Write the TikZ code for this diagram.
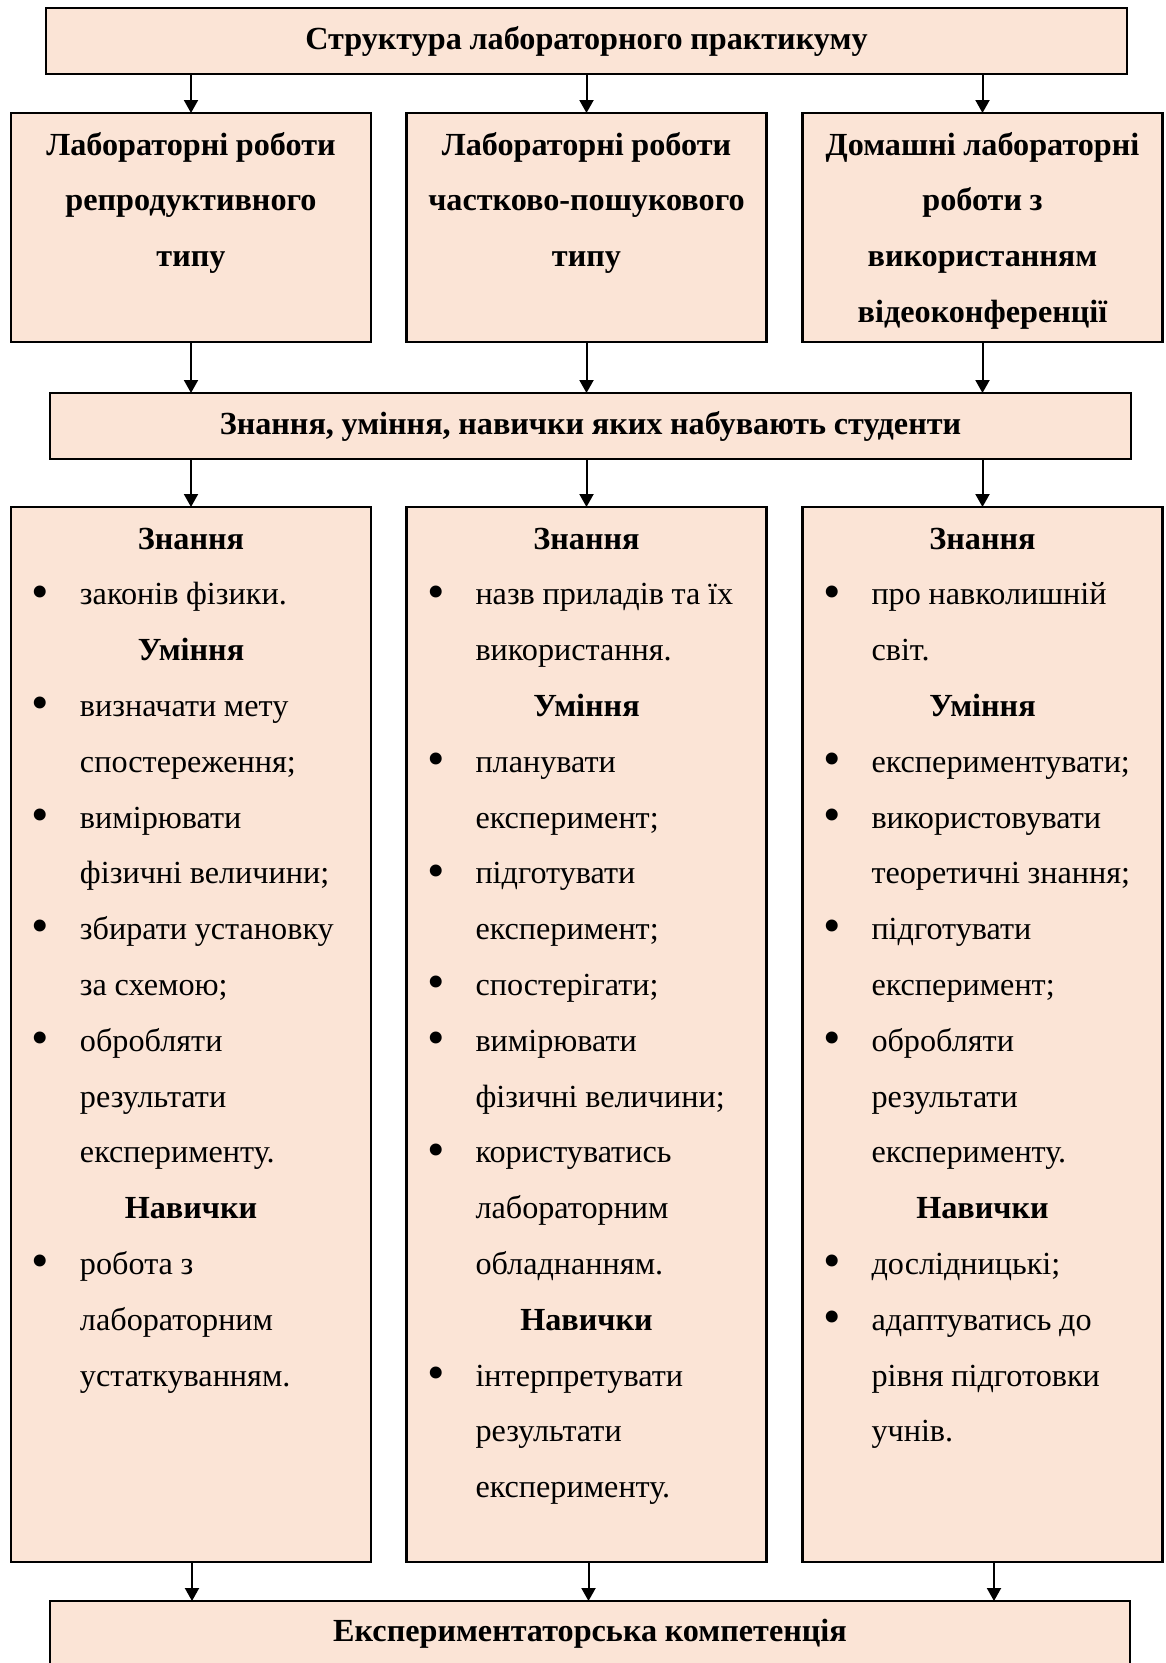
\documentclass[tikz,border=0pt]{standalone}
\usepackage{fontspec}
\setmainfont{Liberation Serif}[WordSpace={0.95,0,0}]
\usepackage{tikz}
\usetikzlibrary{positioning,arrows.meta}

\definecolor{tilo}{RGB}{251,228,214}
\newcommand{\hd}[1]{\makebox[\linewidth][c]{\bfseries #1}}
\newcommand{\bl}{\makebox[54pt][l]{\hspace{5.7pt}\raisebox{-3.2pt}{\scalebox{1.55}{\textbullet}}}}
\newcommand{\cn}{\hspace*{54pt}}
\newcommand{\prob}{\spaceskip=0pt\relax}

\begin{document}
\begin{tikzpicture}[x=1pt, y=-1pt, line width=2.2pt,
    blok/.style={rectangle, draw, fill=tilo, inner sep=0pt, outer sep=0pt,
                 font=\fontsize{32.2}{55.8}\selectfont\bfseries},
    shyroka/.style={blok, minimum width=1081pt, minimum height=66pt, anchor=north west},
    mala/.style={blok, minimum width=360pt, anchor=north west},
    napys/.style={inner sep=0pt, anchor=base, text width=330pt, align=left,
                  font=\fontsize{32.2}{55.8}\selectfont\prob},
    strilka/.style={-{Triangle[length=13pt,width=14pt]}, line width=2pt}]
\useasboundingbox (0,0) rectangle (1166,1663);

% boxes
\node[shyroka] (ttl) at (46,8) {Структура лабораторного практикуму};
\node[mala, minimum height=229pt] (r1) at (11,113) {};
\node[mala, minimum height=229pt] (r2) at (406.5,113) {};
\node[mala, minimum height=229pt] (r3) at (802.5,113) {};
\node[shyroka] (zn) at (50,393) {Знання, уміння, навички яких набувають студенти};
\node[mala, minimum height=1055pt] (k1) at (11,507) {};
\node[mala, minimum height=1055pt] (k2) at (406.5,507) {};
\node[mala, minimum height=1055pt] (k3) at (802.5,507) {};
\node[shyroka, minimum width=1080pt] (komp) at (50,1601) {Експериментаторська компетенція};

% texts of the kinds of work
\node[napys, align=center, font=\fontsize{32.2}{55.8}\selectfont\bfseries\prob] (r1t) at ([yshift=-42pt]r1.north)
  {\prob Лабораторні роботи\\ репродуктивного\\ типу};
\node[napys, align=center, font=\fontsize{32.2}{55.8}\selectfont\bfseries\prob] (r2t) at ([yshift=-42pt]r2.north)
  {\prob Лабораторні роботи\\ частково-пошукового\\ типу};
\node[napys, align=center, font=\fontsize{32.2}{55.8}\selectfont\bfseries\prob] (r3t) at ([yshift=-42pt]r3.north)
  {\prob Домашні лабораторні\\ роботи з\\ використанням\\ відеоконференції};

% knowledge, skills, habits
\node[napys] (k1t) at ([yshift=-42pt]k1.north)
  {\prob\hd{Знання}\\
   \bl законів фізики.\\
   \hd{Уміння}\\
   \bl визначати мету\\
   \cn спостереження;\\
   \bl вимірювати\\
   \cn фізичні величини;\\
   \bl збирати установку\\
   \cn за схемою;\\
   \bl обробляти\\
   \cn результати\\
   \cn експерименту.\\
   \hd{Навички}\\
   \bl робота з\\
   \cn лабораторним\\
   \cn устаткуванням.};
\node[napys] (k2t) at ([yshift=-42pt]k2.north)
  {\prob\hd{Знання}\\
   \bl назв приладів та їх\\
   \cn використання.\\
   \hd{Уміння}\\
   \bl планувати\\
   \cn експеримент;\\
   \bl підготувати\\
   \cn експеримент;\\
   \bl спостерігати;\\
   \bl вимірювати\\
   \cn фізичні величини;\\
   \bl користуватись\\
   \cn лабораторним\\
   \cn обладнанням.\\
   \hd{Навички}\\
   \bl інтерпретувати\\
   \cn результати\\
   \cn експерименту.};
\node[napys] (k3t) at ([yshift=-42pt]k3.north)
  {\prob\hd{Знання}\\
   \bl про навколишній\\
   \cn світ.\\
   \hd{Уміння}\\
   \bl експериментувати;\\
   \bl використовувати\\
   \cn теоретичні знання;\\
   \bl підготувати\\
   \cn експеримент;\\
   \bl обробляти\\
   \cn результати\\
   \cn експерименту.\\
   \hd{Навички}\\
   \bl дослідницькі;\\
   \bl адаптуватись до\\
   \cn рівня підготовки\\
   \cn учнів.};

% arrows
\foreach \b in {r1,r2,r3}
  \draw[strilka] (ttl.south -| \b.north) -- (\b.north);
\foreach \b in {r1,r2,r3}
  \draw[strilka] (\b.south) -- (\b.south |- zn.north);
\foreach \b in {k1,k2,k3}
  \draw[strilka] (zn.south -| \b.north) -- (\b.north);
\foreach \b/\s in {k1/1pt,k2/2pt,k3/11.5pt}
  \draw[strilka] ([xshift=\s]\b.south) -- ([xshift=\s]\b.south |- komp.north);
\end{tikzpicture}
\end{document}
